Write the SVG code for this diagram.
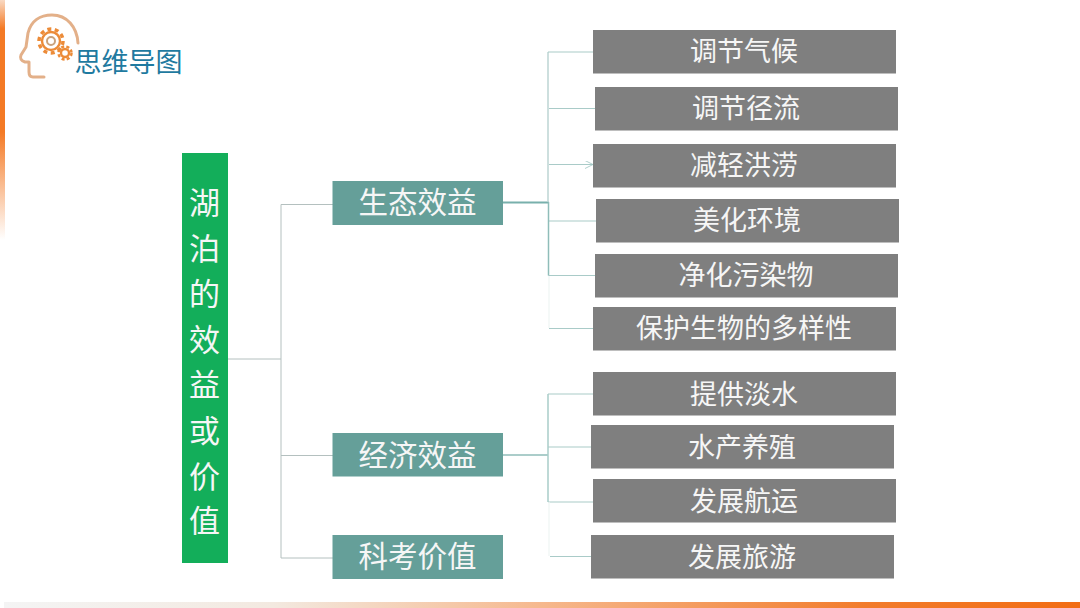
<svg xmlns="http://www.w3.org/2000/svg" width="1080" height="608" viewBox="0 0 1080 608">
<defs>
<linearGradient id="bar" x1="0" y1="0" x2="1" y2="0"><stop offset="0" stop-color="#f4f4f4"/><stop offset="0.25" stop-color="#f3e9e0"/><stop offset="0.5" stop-color="#f6b88d"/><stop offset="0.8" stop-color="#f27c2c"/><stop offset="1" stop-color="#f26d14"/></linearGradient>
<linearGradient id="side" x1="0" y1="0" x2="0" y2="1"><stop offset="0" stop-color="#f9d9c2"/><stop offset="0.12" stop-color="#f47a25"/><stop offset="0.55" stop-color="#f47a25"/><stop offset="1" stop-color="#ffffff"/></linearGradient>
<marker id="open" markerWidth="10" markerHeight="10" refX="8" refY="4" orient="auto" markerUnits="userSpaceOnUse"><path d="M0 0L8 4L0 8" fill="none" stroke="#9cc4c0" stroke-width="0.8"/></marker>
</defs>
<style>
text{font-family:"Noto Sans CJK SC","Liberation Sans",sans-serif;fill:#f6f6f6;text-anchor:middle}
.leaf rect{fill:#7f7f7f}
.leaf text{font-size:27px}
.mid rect{fill:#659f99}
.mid text{font-size:29.500px}
.c path{fill:none;stroke:#a9cbc8;stroke-width:1.2}
.g path{fill:none;stroke:#b4c0bf;stroke-width:1}
.gear{fill:none;stroke:#ec8b38;stroke-width:2.4}
</style>
<rect width="1080" height="608" fill="#fff"/>
<rect x="0" y="0" width="5" height="240" fill="url(#side)"/>
<rect x="4" y="602" width="1076" height="6" fill="url(#bar)"/>
<g id="logo">
<path d="M44 77H33Q29 77 29 72V62H25Q19 60 21 55L26 47Q27 40 28 33C31 21 40 15 52 15C67 15 77 27 78 43" fill="none" stroke="#e3b089" stroke-width="3" stroke-linecap="round" stroke-linejoin="round"/>
<circle class="gear" cx="51" cy="41" r="9"/><circle cx="51" cy="41" r="4" fill="none" stroke="#c9a27c" stroke-width="2"/>
<circle cx="51" cy="41" r="12" fill="none" stroke="#ec8b38" stroke-width="3.500" stroke-dasharray="4 3.500"/>
<circle class="gear" cx="65" cy="53" r="4"/><circle cx="65" cy="53" r="6.500" fill="none" stroke="#ec8b38" stroke-width="2.500" stroke-dasharray="3 2.200"/>
<text x="128.500" y="72" style="font-size:27px;fill:#1f7aa0">思维导图</text>
</g>
<g id="connectors">
<g class="g"><path d="M228 359H281M281 204.500V558M281 204.500H333M281 455.500H333M281 558H333"/></g>
<g class="c">
<path d="M503 202.500H549" style="stroke:#78b0ac;stroke-width:2"/>
<path d="M548 52V202" style="stroke:#bcd5d3;stroke-width:1.500"/>
<path d="M548 52H593M549 108.500H595M549 221H596M548.500 275.500H595M549 328.500H593"/>
<path d="M549 164.500H593" marker-end="url(#open)"/>
<path d="M548.500 202V275.500" style="stroke:#8fbdb9;stroke-width:1.500"/>
<path d="M549 276V328" style="stroke:#eef5f4"/>
<path d="M503 455H548" style="stroke:#8fbdb9;stroke-width:1.500"/>
<path d="M548 394V502" style="stroke:#a9cdc9;stroke-width:1.500"/>
<path d="M548 394H593M548 447H591M548 502H593M550 556.500H591"/>
<path d="M549 502V556" style="stroke:#eef5f4"/>
</g>
</g>
<g id="root"><rect x="182" y="153" width="46" height="410" fill="#13ae5a"/>
<g style="font-size:31px"><text x="204.500" y="214">湖</text><text x="204.500" y="260">泊</text><text x="204.500" y="305">的</text><text x="204.500" y="351">效</text><text x="204.500" y="396">益</text><text x="204.500" y="442">或</text><text x="204.500" y="488">价</text><text x="204.500" y="532">值</text></g></g>
<g id="mid1" class="mid"><rect x="332.500" y="181" width="170.500" height="44"/><text x="417.500" y="213">生态效益</text></g>
<g id="mid2" class="mid"><rect x="332.500" y="433" width="170.500" height="43.500"/><text x="417.500" y="466">经济效益</text></g>
<g id="mid3" class="mid"><rect x="332.500" y="535" width="170.500" height="44"/><text x="417.500" y="567">科考价值</text></g>
<g id="l1" class="leaf"><rect x="593" y="30" width="303" height="43.500"/><text x="744" y="61">调节气候</text></g>
<g id="l2" class="leaf"><rect x="595" y="87" width="303" height="43.500"/><text x="746" y="118">调节径流</text></g>
<g id="l3" class="leaf"><rect x="593" y="144" width="303" height="43.500"/><text x="744" y="175">减轻洪涝</text></g>
<g id="l4" class="leaf"><rect x="596" y="199" width="303" height="43.500"/><text x="747" y="230">美化环境</text></g>
<g id="l5" class="leaf"><rect x="595" y="254" width="303" height="43.500"/><text x="746" y="285">净化污染物</text></g>
<g id="l6" class="leaf"><rect x="593" y="307" width="303" height="43.500"/><text x="744" y="338">保护生物的多样性</text></g>
<g id="l7" class="leaf"><rect x="593" y="372" width="303" height="43.500"/><text x="744" y="404">提供淡水</text></g>
<g id="l8" class="leaf"><rect x="591" y="425" width="303" height="43.500"/><text x="742" y="457">水产养殖</text></g>
<g id="l9" class="leaf"><rect x="593" y="479" width="303" height="43.500"/><text x="744" y="511">发展航运</text></g>
<g id="l10" class="leaf"><rect x="591" y="535" width="303" height="43.500"/><text x="742" y="567">发展旅游</text></g>
</svg>
